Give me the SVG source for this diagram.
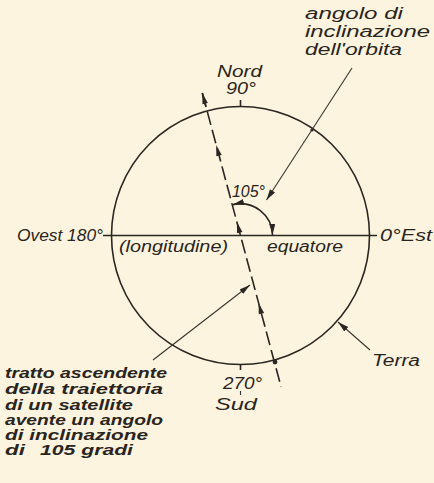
<svg xmlns="http://www.w3.org/2000/svg" xmlns:xlink="http://www.w3.org/1999/xlink" width="434" height="483" viewBox="0 0 434 483">
<style>
.ln{stroke:#2b2622;fill:none;stroke-width:1.6}
.thin{stroke:#3a3430;fill:none;stroke-width:1.1}
.t{font-family:"Liberation Sans","DejaVu Sans",sans-serif;font-style:italic;fill:#2a2420;font-size:16px}
.b{font-weight:bold;font-size:14.5px}
</style>
<defs>
<marker id="arr" markerWidth="12" markerHeight="8" refX="11" refY="3" orient="auto-start-reverse" markerUnits="userSpaceOnUse">
<path d="M0,0 L11,3 L0,6 z" fill="#2b2622"/>
</marker>
<path id="ah" d="M0,0 L-11,-2.8 L-11,2.8 z" fill="#2b2622"/>
</defs>
<rect width="434" height="483" fill="#fcf4de"/>

<g id="earth">
<circle class="ln" cx="240.5" cy="235.5" r="129"/>
<circle cx="275" cy="362" r="2.4" fill="#2b2622"/>
<circle cx="312" cy="130" r="1.6" fill="#2b2622"/>
</g>

<g id="equator">
<line class="ln" x1="103" y1="235.5" x2="377" y2="235.5"/>
<text class="t" x="17" y="241" font-size="17" textLength="86" lengthAdjust="spacingAndGlyphs">Ovest 180°</text>
<text class="t" x="380" y="241" font-size="17" textLength="52" lengthAdjust="spacingAndGlyphs">0°Est</text>
<text class="t" x="119" y="252" textLength="109" lengthAdjust="spacingAndGlyphs">(longitudine)</text>
<text class="t" x="267" y="252" textLength="76" lengthAdjust="spacingAndGlyphs">equatore</text>
</g>

<g id="north">
<line class="ln" x1="240.5" y1="100" x2="240.5" y2="107"/>
<text class="t" x="217" y="77" font-size="15" textLength="45" lengthAdjust="spacingAndGlyphs">Nord</text>
<text class="t" x="226" y="94" font-size="15" textLength="30" lengthAdjust="spacingAndGlyphs">90°</text>
</g>

<g id="south">
<line class="ln" x1="240.5" y1="364" x2="240.5" y2="370"/>
<line class="thin" x1="240.5" y1="391" x2="240.5" y2="395"/>
<text class="t" x="223" y="389" font-size="15" textLength="39" lengthAdjust="spacingAndGlyphs">270°</text>
<text class="t" x="215" y="410" font-size="17" textLength="42" lengthAdjust="spacingAndGlyphs">Sud</text>
</g>

<g id="connectors">
<line class="ln" x1="202.3" y1="93" x2="281.1" y2="387" stroke-dasharray="14 5"/>
<line class="ln" x1="202.3" y1="93" x2="206" y2="107"/>
<use xlink:href="#ah" transform="translate(202.3,93) rotate(-105)"/>
<use xlink:href="#ah" transform="translate(216.2,145) rotate(-105)"/>
<use xlink:href="#ah" transform="translate(236.9,222) rotate(-105)"/>
<use xlink:href="#ah" transform="translate(258.6,303) rotate(-105)"/>
<path class="ln" d="M272.5,235 A32,32 0 0 0 233,204.6" marker-start="url(#arr)" marker-end="url(#arr)"/>
<line class="thin" x1="352" y1="68" x2="266.5" y2="200" marker-end="url(#arr)"/>
<line class="thin" x1="153" y1="360" x2="250" y2="285" marker-end="url(#arr)"/>
<line class="thin" x1="370" y1="350" x2="338" y2="322" marker-end="url(#arr)"/>
</g>

<g id="angle-label">
<text class="t" x="232" y="197" font-size="15" textLength="33" lengthAdjust="spacingAndGlyphs">105°</text>
</g>

<g id="orbit-label">
<text class="t" x="305" y="19" textLength="98" lengthAdjust="spacingAndGlyphs">angolo di</text>
<text class="t" x="305" y="37" textLength="125" lengthAdjust="spacingAndGlyphs">inclinazione</text>
<text class="t" x="305" y="55" textLength="97" lengthAdjust="spacingAndGlyphs">dell'orbita</text>
</g>

<g id="terra-label">
<text class="t" x="372" y="366" font-size="17" textLength="48" lengthAdjust="spacingAndGlyphs">Terra</text>
</g>

<g id="track-label">
<text class="t b" x="5" y="378" textLength="162" lengthAdjust="spacingAndGlyphs">tratto ascendente</text>
<text class="t b" x="5" y="394" textLength="158" lengthAdjust="spacingAndGlyphs">della traiettoria</text>
<text class="t b" x="5" y="410" textLength="128" lengthAdjust="spacingAndGlyphs">di un satellite</text>
<text class="t b" x="5" y="425" textLength="158" lengthAdjust="spacingAndGlyphs">avente un angolo</text>
<text class="t b" x="5" y="440" textLength="143" lengthAdjust="spacingAndGlyphs">di inclinazione</text>
<text class="t b" x="5" y="455"><tspan textLength="20" lengthAdjust="spacingAndGlyphs">di</tspan><tspan x="40" textLength="93" lengthAdjust="spacingAndGlyphs">105 gradi</tspan></text>
</g>
</svg>
